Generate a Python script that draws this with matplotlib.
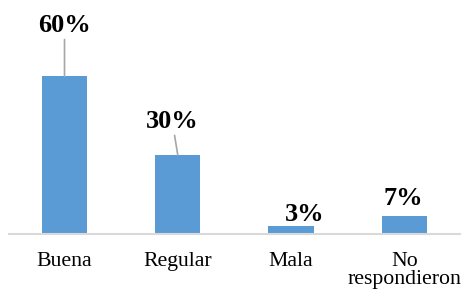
import matplotlib
matplotlib.use("Agg")
import matplotlib.pyplot as plt

# datos de la encuesta
categorias = ["Buena", "Regular", "Mala", "No\nrespondieron"]
porcentajes = [60, 30, 3, 7]
etiquetas = ["60%", "30%", "3%", "7%"]

# desplazamiento de cada etiqueta (puntos) y si lleva línea guía
desplazamientos = [(0, 36.7), (-4, 24.5), (9.7, 8.6), (-1, 12.2)]
con_linea = [True, True, False, False]

plt.rcParams['font.family'] = ['Liberation Serif', 'DejaVu Serif']

fig = plt.figure(figsize=(4.61, 2.94), dpi=100)
ax = fig.add_axes([9 / 461, 60 / 294, 1 - 9 / 461, 234 / 294])

x = range(len(categorias))
ax.bar(x, porcentajes, width=0.4, color='#5B9BD5')

for i, (val, txt) in enumerate(zip(porcentajes, etiquetas)):
    props = None
    if con_linea[i]:
        props = dict(arrowstyle='-', color='#a6a6a6', lw=1.2, shrinkA=0, shrinkB=0)
    ax.annotate(txt, xy=(i, val), xytext=desplazamientos[i], textcoords='offset points',
                ha='center', va='center', fontsize=19, fontweight='bold',
                arrowprops=props)

ax.set_xlim(-0.49, 3.5)
ax.set_ylim(0, 89)
ax.set_xticks(list(x))
ax.set_xticklabels(categorias, fontsize=15.7, linespacing=0.92)
ax.tick_params(axis='x', length=0, pad=13)
ax.set_yticks([])
for lado in ['top', 'right', 'left']:
    ax.spines[lado].set_visible(False)
ax.spines['bottom'].set_color('#d9d9d9')
ax.spines['bottom'].set_linewidth(1.5)

fig.savefig('out.png', dpi=100)
